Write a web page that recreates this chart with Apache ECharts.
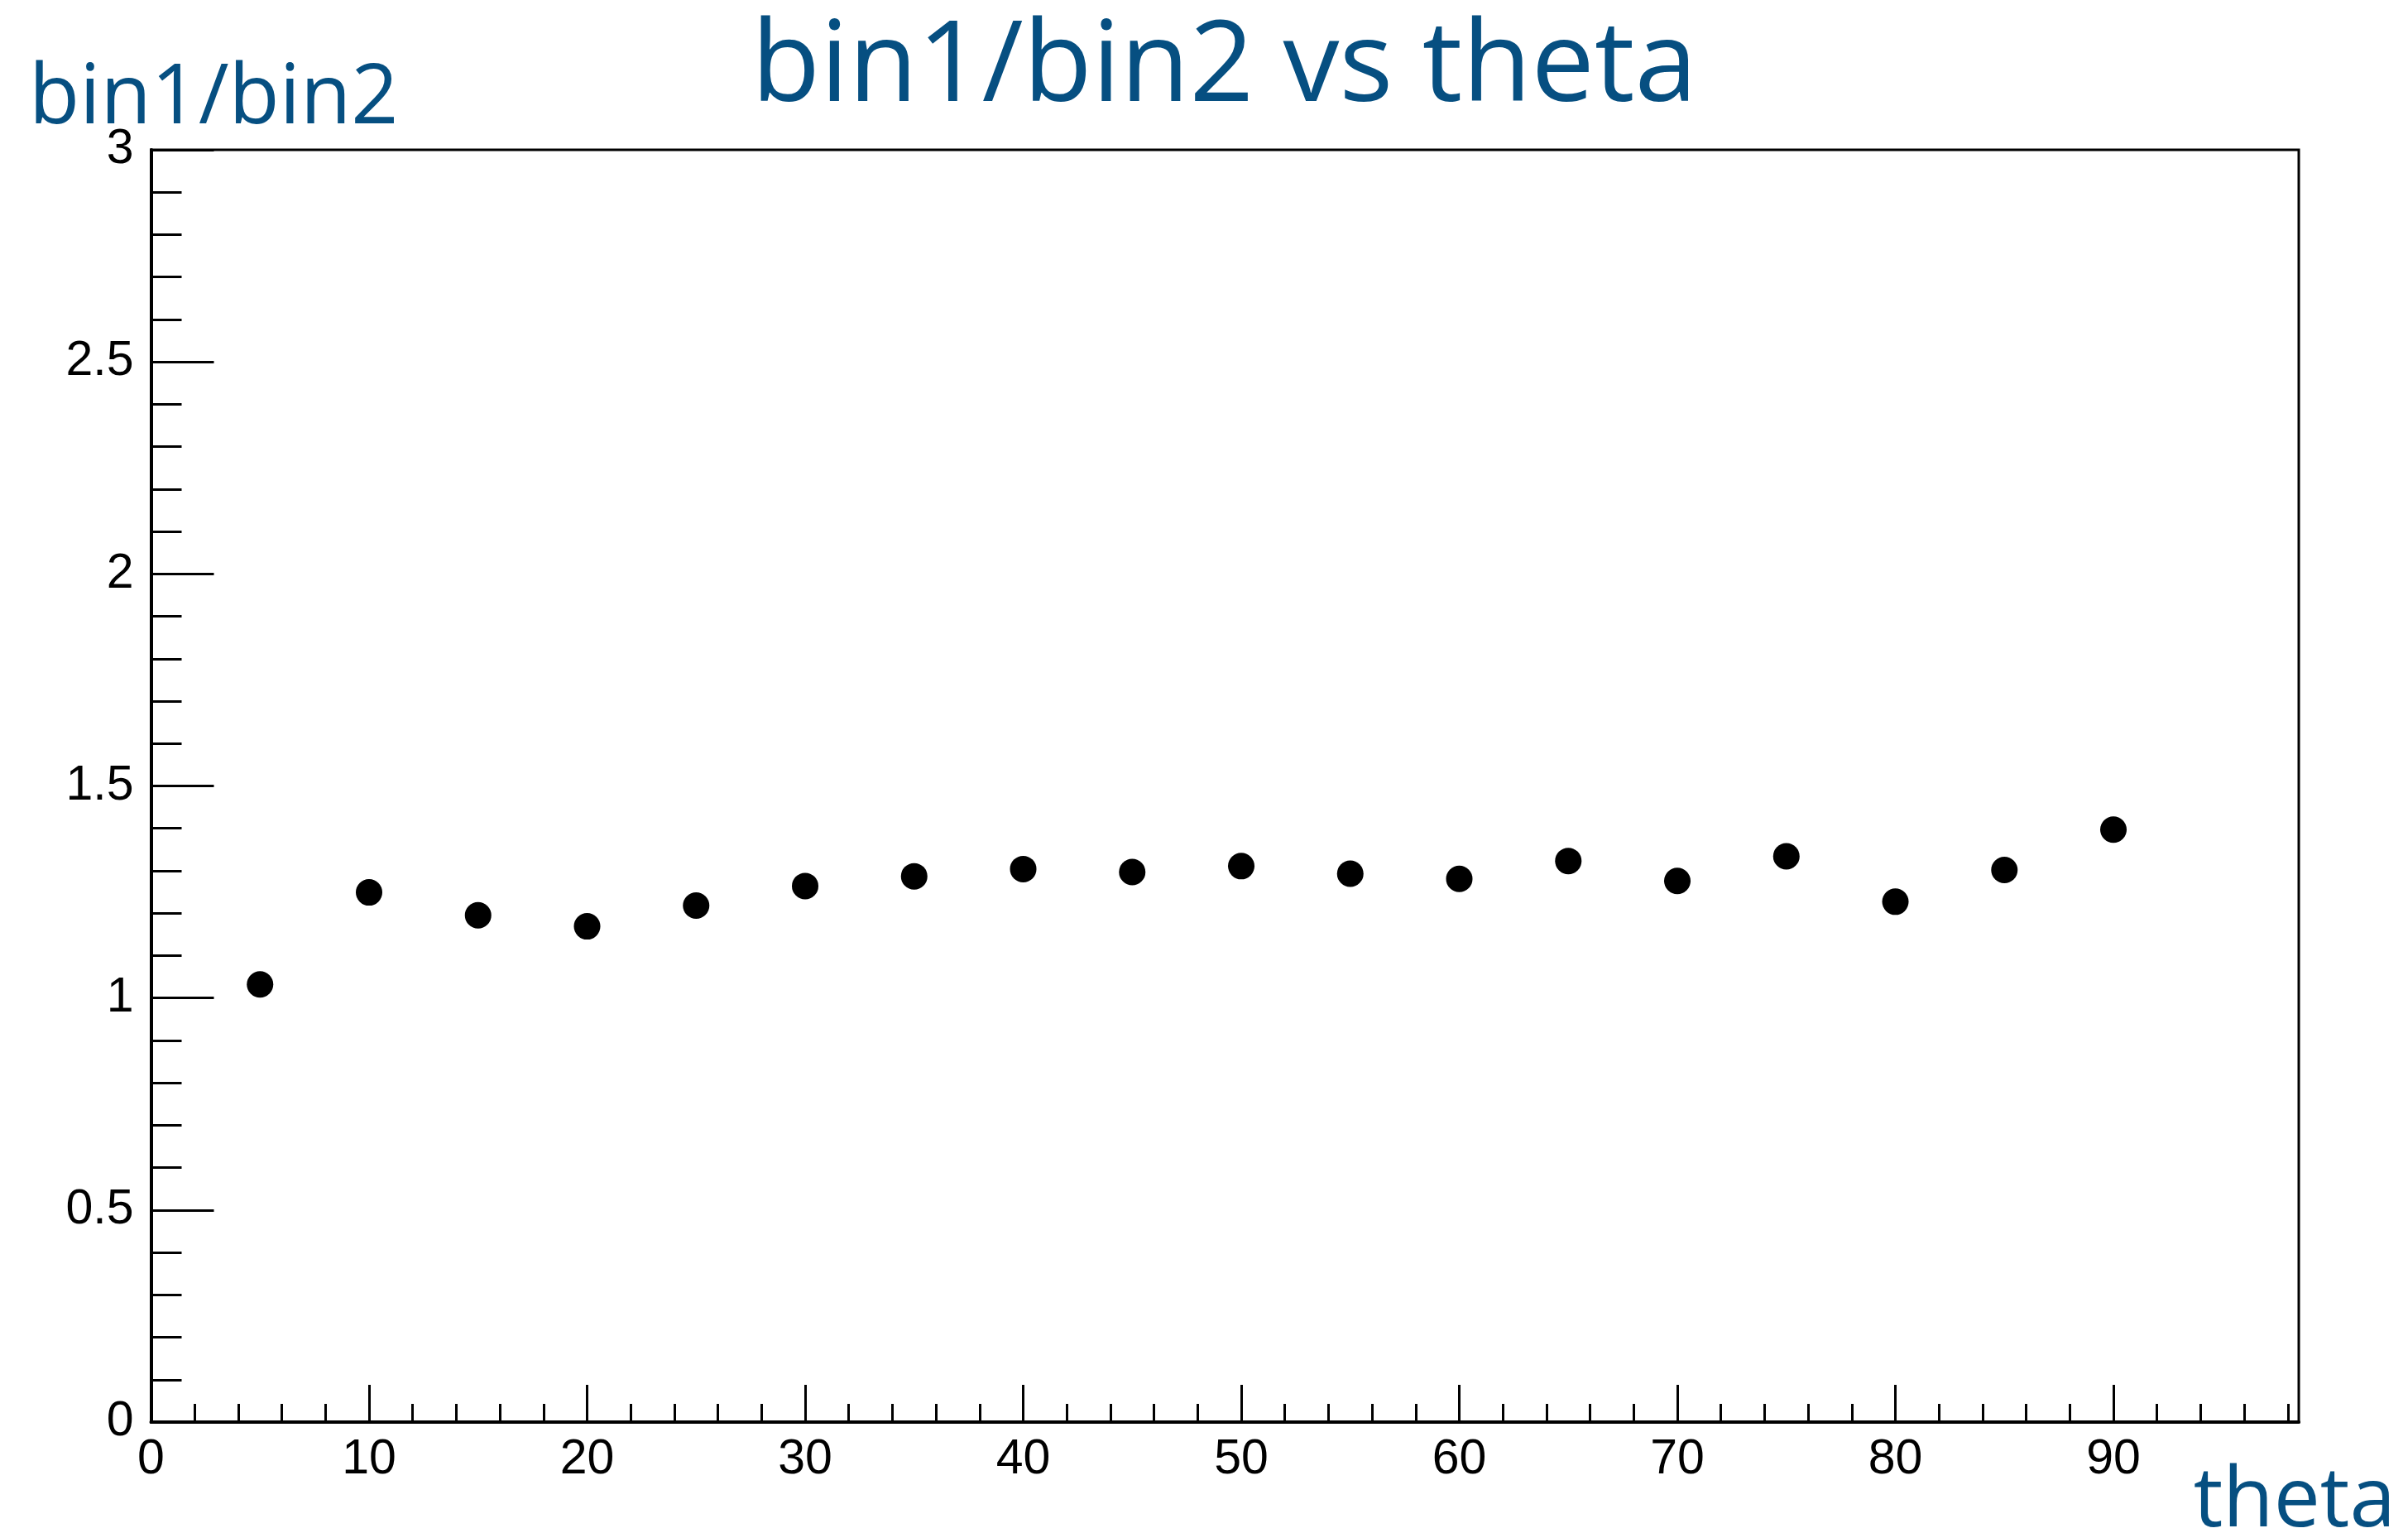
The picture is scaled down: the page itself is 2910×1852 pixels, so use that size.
<!DOCTYPE html>
<html>
<head>
<meta charset="utf-8">
<title>bin1/bin2 vs theta</title>
<script src="https://cdn.jsdelivr.net/npm/echarts@6/dist/echarts.min.js"></script>
<style>
  html, body { margin: 0; padding: 0; background: #ffffff; }
  #chart { width: 2910px; height: 1852px; }
</style>
</head>
<body>
<div id="chart"></div>
<script>
// Measured ratio of bin1 to bin2 at each theta
const theta = [5, 10, 15, 20, 25, 30, 35, 40, 45, 50, 55, 60, 65, 70, 75, 80, 85, 90];
const ratio = [1.032, 1.249, 1.195, 1.169, 1.218, 1.264, 1.287, 1.304, 1.297,
               1.311, 1.293, 1.281, 1.323, 1.276, 1.334, 1.227, 1.302, 1.397];

// Axis ticks
const xMajorTicks = [0, 10, 20, 30, 40, 50, 60, 70, 80, 90];
const xMinorTicks = [2, 4, 6, 8, 12, 14, 16, 18, 22, 24, 26, 28, 32, 34, 36, 38,
                     42, 44, 46, 48, 52, 54, 56, 58, 62, 64, 66, 68, 72, 74, 76, 78,
                     82, 84, 86, 88, 92, 94, 96, 98];
const yMajorTicks = [0, 0.5, 1, 1.5, 2, 2.5, 3];

const xRange = [0, 98.5];
const yRange = [0, 3];

const titleText = 'bin1/bin2 vs theta';
const xName = 'theta';
const yName = 'bin1/bin2';

const blue = '#064f81';
const tickFont = { fontFamily: 'Liberation Sans', fontSize: 59, color: '#000' };

const chart = echarts.init(document.getElementById('chart'), null, { renderer: 'canvas' });

chart.setOption({
  animation: false,
  backgroundColor: '#ffffff',
  title: [
    { text: titleText, left: 903, top: 10,
      textStyle: { fontFamily: 'Open Sans', fontWeight: 'normal', fontSize: 136, color: blue } },
    { text: yName, left: 30, top: 66,
      textStyle: { fontFamily: 'Open Sans', fontWeight: 'normal', fontSize: 100, color: blue } },
    { text: xName, right: 10, top: 1761,
      textStyle: { fontFamily: 'Open Sans', fontWeight: 'normal', fontSize: 100, color: blue } }
  ],
  grid: {
    left: 182.5, right: 132, top: 181, bottom: 134,
    show: true, borderColor: '#000', borderWidth: 3, backgroundColor: 'transparent'
  },
  xAxis: [
    {
      type: 'value', min: xRange[0], max: xRange[1], position: 'bottom',
      axisLine: { show: true, lineStyle: { color: '#000', width: 4 } },
      axisTick: { show: true, inside: true, length: 45, lineStyle: { color: '#000', width: 3 },
                  customValues: xMajorTicks },
      axisLabel: { show: true, margin: 16, customValues: xMajorTicks, ...tickFont },
      splitLine: { show: false }
    },
    {
      type: 'value', min: xRange[0], max: xRange[1], position: 'bottom',
      axisLine: { show: false },
      axisTick: { show: true, inside: true, length: 22, lineStyle: { color: '#000', width: 3 },
                  customValues: xMinorTicks },
      axisLabel: { show: false },
      splitLine: { show: false }
    }
  ],
  yAxis: {
    type: 'value', min: yRange[0], max: yRange[1], interval: 0.5,
    axisLine: { show: true, lineStyle: { color: '#000', width: 4 } },
    axisTick: { show: true, inside: true, length: 76, lineStyle: { color: '#000', width: 3 },
                customValues: yMajorTicks },
    minorTick: { show: true, splitNumber: 5, length: 37, lineStyle: { color: '#000', width: 3 } },
    axisLabel: { show: true, margin: 21, padding: [10, 0, 0, 0], customValues: yMajorTicks, ...tickFont },
    splitLine: { show: false },
    minorSplitLine: { show: false }
  },
  series: [{
    type: 'scatter',
    xAxisIndex: 0,
    yAxisIndex: 0,
    symbol: 'circle',
    symbolSize: 32,
    itemStyle: { color: '#000', opacity: 1 },
    data: theta.map((t, i) => [t, ratio[i]])
  }]
});
</script>
</body>
</html>
